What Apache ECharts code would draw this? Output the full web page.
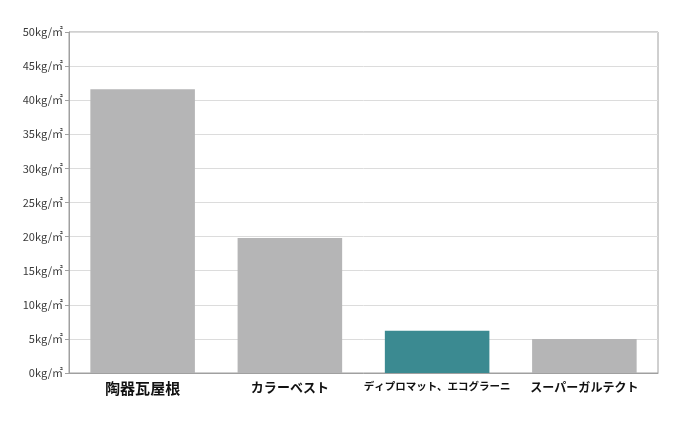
<!DOCTYPE html>
<html>
<head>
<meta charset="utf-8">
<script src="https://cdn.jsdelivr.net/npm/echarts@6/dist/echarts.min.js"></script>
<style>
html,body{margin:0;padding:0;background:#fff;}
#c{width:700px;height:422px;}
</style>
</head>
<body>
<div id="c"></div>
<script>
const categories = ['陶器瓦屋根', 'カラーベスト', 'ディプロマット、エコグラーニ', 'スーパーガルテクト'];
const weights = [41.6, 19.8, 6.2, 5.0];
const barColors = ['#b5b5b6', '#b5b5b6', '#3b8a91', '#b5b5b6'];
const yTicks = [0, 5, 10, 15, 20, 25, 30, 35, 40, 45, 50];
const labelStyles = ['a', 'b', 'c', 'd'];

const chart = echarts.init(document.getElementById('c'), null, {renderer: 'canvas'});
chart.setOption({
  animation: false,
  backgroundColor: '#fff',
  grid: {left: 69, right: 42, top: 32, bottom: 49, show: true, borderColor: '#a0a0a0', borderWidth: 1},
  xAxis: {
    type: 'category',
    data: categories,
    axisLine: {show: true, lineStyle: {color: '#a0a0a0'}},
    axisTick: {show: false},
    axisLabel: {
      interval: 0,
      margin: 8,
      color: '#111',
      fontFamily: 'Noto Sans CJK JP',
      fontWeight: 'bold',
      formatter: function (v, i) { return '{' + labelStyles[i] + '|' + v + '}'; },
      rich: {
        a: {fontSize: 15, fontWeight: 'bold', color: '#111', fontFamily: 'Noto Sans CJK JP'},
        b: {fontSize: 13, fontWeight: 'bold', color: '#111', fontFamily: 'Noto Sans CJK JP'},
        c: {fontSize: 10.5, fontWeight: 'bold', color: '#111', fontFamily: 'Noto Sans CJK JP'},
        d: {fontSize: 12, fontWeight: 'bold', color: '#111', fontFamily: 'Noto Sans CJK JP'}
      }
    }
  },
  yAxis: {
    type: 'value',
    min: yTicks[0],
    max: yTicks[yTicks.length - 1],
    interval: 5,
    axisLine: {show: true, lineStyle: {color: '#a0a0a0'}},
    axisTick: {show: true, length: 4, lineStyle: {color: '#a0a0a0'}},
    splitLine: {show: true, lineStyle: {color: '#dcdcdc', width: 1}},
    axisLabel: {
      margin: 6,
      color: '#3a3a3a',
      fontSize: 11,
      fontFamily: 'Noto Sans CJK JP',
      formatter: function (v) { return v + 'kg/㎡'; }
    }
  },
  series: [{
    type: 'bar',
    barCategoryGap: '29%',
    data: weights.map(function (v, i) {
      return {value: v, itemStyle: {color: barColors[i]}};
    })
  }]
});
</script>
</body>
</html>
